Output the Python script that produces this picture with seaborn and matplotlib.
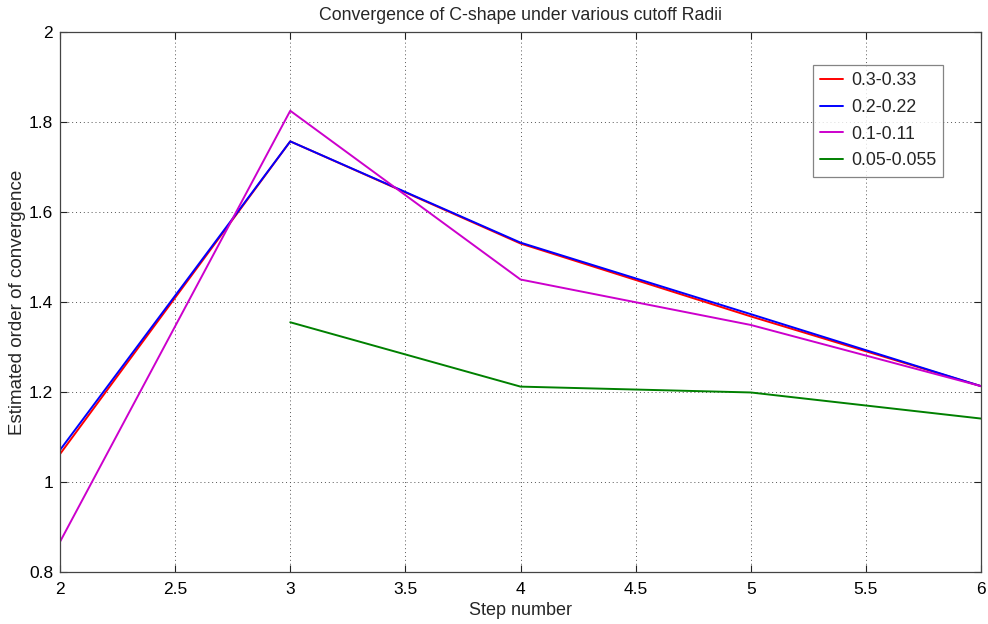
import numpy as np
import pandas as pd
import matplotlib
matplotlib.use("Agg")
import matplotlib.pyplot as plt
import seaborn as sns

steps = [2, 3, 4, 5, 6]
r033 = [1.062, 1.757, 1.530, 1.368, 1.213]
r022 = [1.071, 1.757, 1.532, 1.373, 1.213]
r011 = [0.867, 1.825, 1.450, 1.349, 1.213]
r0055 = [np.nan, 1.355, 1.212, 1.199, 1.141]
labels = ["0.3-0.33", "0.2-0.22", "0.1-0.11", "0.05-0.055"]
colors = ["#ff0000", "#0000ff", "#cc00cc", "#008000"]

frames = []
for lab, vals in zip(labels, [r033, r022, r011, r0055]):
    frames.append(pd.DataFrame({"Step": steps, "Order": vals, "Radii": lab}))
df = pd.concat(frames, ignore_index=True).dropna()

sns.set_style("white")
plt.rcParams["font.family"] = ["Liberation Sans", "DejaVu Sans"]

fig = plt.figure(figsize=(9.88, 6.24), dpi=100)
ax = fig.add_axes([0.0607, 0.0833, 0.9323, 0.8654])

sns.lineplot(data=df, x="Step", y="Order", hue="Radii", hue_order=labels,
             palette=dict(zip(labels, colors)), linewidth=1.4, ax=ax,
             estimator=None, sort=True)

ax.set_xlim(2, 6)
ax.set_ylim(0.8, 2)
ax.set_xticks(np.arange(2, 6.01, 0.5))
ax.set_xticklabels(["2", "2.5", "3", "3.5", "4", "4.5", "5", "5.5", "6"])
ax.set_yticks([0.8, 1.0, 1.2, 1.4, 1.6, 1.8, 2.0])
ax.set_yticklabels(["0.8", "1", "1.2", "1.4", "1.6", "1.8", "2"])
ax.grid(True, linestyle=(0, (1, 3)), color="#555555", linewidth=0.7)
ax.tick_params(direction="in", length=5, labelsize=12.5, colors="#222222",
               top=True, right=True, left=True, bottom=True, labelcolor="black")
ax.tick_params(axis="x", pad=7)
ax.tick_params(axis="y", pad=5)
for s in ax.spines.values():
    s.set_color("#444444")
    s.set_linewidth(0.9)

ax.set_xlabel("Step number", fontsize=13, labelpad=4)
ax.set_ylabel("Estimated order of convergence", fontsize=13.5, labelpad=2)
ax.set_title("Convergence of C-shape under various cutoff Radii", fontsize=12.8, pad=9)

leg = ax.legend(loc="upper right", bbox_to_anchor=(0.9588, 0.9389), fontsize=12.8,
                frameon=True, fancybox=False, edgecolor="#666666",
                handlelength=1.3, handletextpad=0.45, labelspacing=0.55,
                borderpad=0.4, borderaxespad=0)
leg.get_frame().set_linewidth(0.9)

fig.savefig("out.png", dpi=100)
